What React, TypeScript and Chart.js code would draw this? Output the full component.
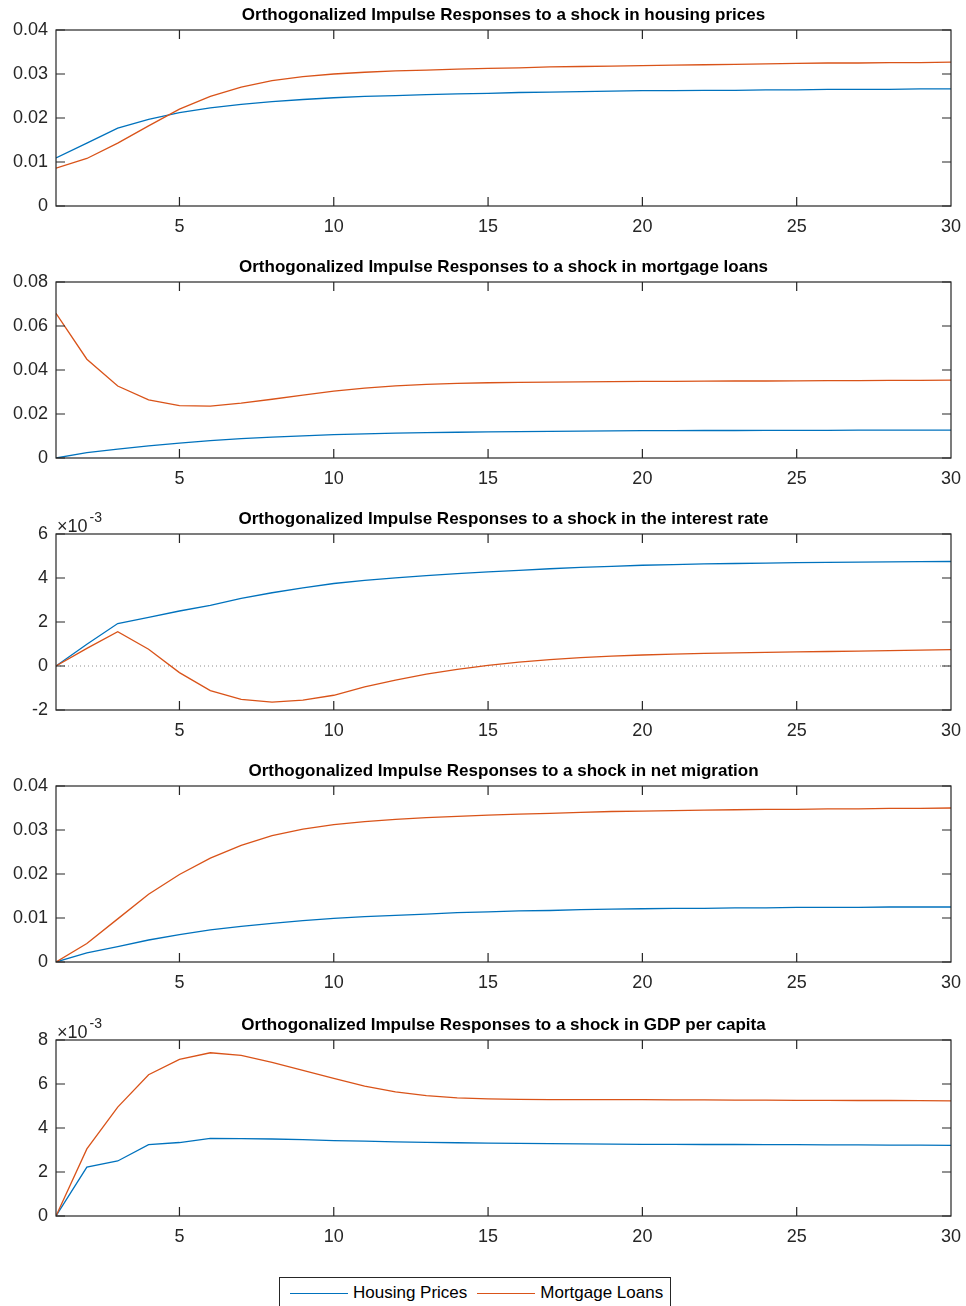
import React, { useEffect, useRef } from "react";
import { Chart, registerables } from "chart.js";

Chart.register(...registerables);

// ---------- data ----------
const periods = [1, 2, 3, 4, 5, 6, 7, 8, 9, 10, 11, 12, 13, 14, 15, 16, 17, 18, 19, 20, 21, 22, 23, 24, 25, 26, 27, 28, 29, 30];
const xTicks = [5, 10, 15, 20, 25, 30];
const seriesNames = ["Housing Prices", "Mortgage Loans"];

const titles = [
  "Orthogonalized Impulse Responses to a shock in housing prices",
  "Orthogonalized Impulse Responses to a shock in mortgage loans",
  "Orthogonalized Impulse Responses to a shock in the interest rate",
  "Orthogonalized Impulse Responses to a shock in net migration",
  "Orthogonalized Impulse Responses to a shock in GDP per capita",
];

// Shock in housing prices
const housingShockHP = [0.0109, 0.0143, 0.0177, 0.0197, 0.0212, 0.0223, 0.0231, 0.0237, 0.0242, 0.0246, 0.0249, 0.0251, 0.0253, 0.0255, 0.0256, 0.0258, 0.0259, 0.0260, 0.0261, 0.0262, 0.0262, 0.0263, 0.0263, 0.0264, 0.0264, 0.0265, 0.0265, 0.0265, 0.0266, 0.0266];
const housingShockML = [0.0086, 0.0108, 0.0143, 0.0182, 0.0220, 0.0249, 0.0270, 0.0285, 0.0294, 0.0300, 0.0304, 0.0307, 0.0309, 0.0311, 0.0313, 0.0314, 0.0316, 0.0317, 0.0318, 0.0319, 0.0320, 0.0321, 0.0322, 0.0323, 0.0324, 0.0325, 0.0325, 0.0326, 0.0326, 0.0327];
const housingTicks = [0, 0.01, 0.02, 0.03, 0.04];

// Shock in mortgage loans
const mortgageShockHP = [0, 0.0024, 0.0040, 0.0055, 0.0068, 0.0079, 0.0088, 0.0095, 0.0101, 0.0106, 0.0110, 0.0113, 0.0115, 0.0117, 0.0119, 0.0120, 0.0121, 0.0122, 0.0123, 0.0124, 0.0124, 0.0125, 0.0125, 0.0126, 0.0126, 0.0126, 0.0127, 0.0127, 0.0127, 0.0127];
const mortgageShockML = [0.0658, 0.0449, 0.0327, 0.0264, 0.0238, 0.0236, 0.0249, 0.0267, 0.0286, 0.0304, 0.0318, 0.0328, 0.0335, 0.0339, 0.0342, 0.0344, 0.0345, 0.0346, 0.0347, 0.0348, 0.0348, 0.0349, 0.0350, 0.0350, 0.0351, 0.0352, 0.0352, 0.0353, 0.0353, 0.0354];
const mortgageTicks = [0, 0.02, 0.04, 0.06, 0.08];

// Shock in the interest rate (values x 10^-3)
const rateShockHP = [0, 0.99, 1.93, 2.21, 2.50, 2.76, 3.07, 3.33, 3.55, 3.75, 3.89, 4.01, 4.11, 4.20, 4.28, 4.35, 4.42, 4.48, 4.53, 4.58, 4.61, 4.64, 4.66, 4.68, 4.70, 4.71, 4.72, 4.73, 4.74, 4.75];
const rateShockML = [0, 0.80, 1.56, 0.76, -0.30, -1.12, -1.52, -1.64, -1.55, -1.33, -0.95, -0.64, -0.37, -0.15, 0.03, 0.18, 0.29, 0.38, 0.45, 0.50, 0.54, 0.57, 0.60, 0.62, 0.64, 0.66, 0.68, 0.70, 0.72, 0.74];
const rateZeroLine = [0, 0];
const rateTicks = [-2, 0, 2, 4, 6];

// Shock in net migration
const migrationShockHP = [0, 0.0021, 0.0035, 0.0050, 0.0062, 0.0073, 0.0081, 0.0088, 0.0094, 0.0099, 0.0103, 0.0106, 0.0109, 0.0112, 0.0114, 0.0116, 0.0117, 0.0119, 0.0120, 0.0121, 0.0122, 0.0122, 0.0123, 0.0123, 0.0124, 0.0124, 0.0124, 0.0125, 0.0125, 0.0125];
const migrationShockML = [0, 0.0042, 0.0098, 0.0154, 0.0199, 0.0236, 0.0265, 0.0287, 0.0302, 0.0312, 0.0319, 0.0324, 0.0328, 0.0331, 0.0334, 0.0336, 0.0338, 0.0340, 0.0342, 0.0343, 0.0344, 0.0345, 0.0346, 0.0347, 0.0347, 0.0348, 0.0348, 0.0349, 0.0349, 0.0350];
const migrationTicks = [0, 0.01, 0.02, 0.03, 0.04];

// Shock in GDP per capita (values x 10^-3)
const gdpShockHP = [0, 2.22, 2.50, 3.24, 3.34, 3.53, 3.52, 3.50, 3.47, 3.43, 3.40, 3.37, 3.35, 3.33, 3.31, 3.30, 3.29, 3.28, 3.27, 3.26, 3.26, 3.25, 3.25, 3.24, 3.24, 3.23, 3.23, 3.22, 3.22, 3.21];
const gdpShockML = [0, 3.05, 4.95, 6.42, 7.12, 7.42, 7.30, 6.98, 6.62, 6.26, 5.90, 5.64, 5.47, 5.37, 5.32, 5.30, 5.29, 5.29, 5.29, 5.29, 5.28, 5.28, 5.27, 5.27, 5.26, 5.26, 5.25, 5.25, 5.24, 5.23];
const gdpTicks = [0, 2, 4, 6, 8];

// ---------- styling ----------
const FONT = "'Liberation Sans', Arial, Helvetica, sans-serif";
const BLUE = "#0072BD";
const ORANGE = "#D95319";
const AXIS = "#262626";
const TICK_SIZE = 18;

const CANVAS_W = 966;
const CANVAS_H = 240;

const framePlugin = {
  id: "frame",
  afterDatasetsDraw(chart: any, _args: any, opts: any) {
    const { ctx, chartArea: a, scales } = chart;
    ctx.save();
    // box
    ctx.strokeStyle = AXIS;
    ctx.lineWidth = 1.2;
    ctx.strokeRect(a.left, a.top, a.right - a.left, a.bottom - a.top);
    // inward ticks
    const tl = 9;
    ctx.beginPath();
    (opts.xTicks || []).forEach((v: number) => {
      const px = scales.x.getPixelForValue(v);
      ctx.moveTo(px, a.bottom);
      ctx.lineTo(px, a.bottom - tl);
      ctx.moveTo(px, a.top);
      ctx.lineTo(px, a.top + tl);
    });
    (opts.yTicks || []).forEach((v: number) => {
      const py = scales.y.getPixelForValue(v);
      ctx.moveTo(a.left, py);
      ctx.lineTo(a.left + tl, py);
      ctx.moveTo(a.right, py);
      ctx.lineTo(a.right - tl, py);
    });
    ctx.stroke();
    // title
    ctx.fillStyle = "#000";
    ctx.font = `bold 17px ${FONT}`;
    ctx.textAlign = "center";
    ctx.textBaseline = "alphabetic";
    ctx.fillText(opts.title, (a.left + a.right) / 2, a.top - 10);
    // exponent
    if (opts.exponent) {
      ctx.fillStyle = AXIS;
      ctx.textAlign = "left";
      ctx.font = `18px ${FONT}`;
      const base = "\u00d710";
      ctx.fillText(base, a.left + 1, a.top - 2.5);
      const w = ctx.measureText(base).width;
      ctx.font = `14px ${FONT}`;
      ctx.fillText(opts.exponent, a.left + 3 + w, a.top - 12);
    }
    ctx.restore();
  },
};

type PanelProps = {
  top: number;
  title: string;
  hp: number[];
  ml: number[];
  yTicks: number[];
  exponent?: string;
  zero?: number[];
};

function Panel({ top, title, hp, ml, yTicks, exponent, zero }: PanelProps) {
  const ref = useRef<HTMLCanvasElement | null>(null);
  useEffect(() => {
    if (!ref.current) return;
    const datasets: any[] = [
      {
        label: seriesNames[1],
        data: periods.map((p, i) => ({ x: p, y: ml[i] })),
        borderColor: ORANGE,
        backgroundColor: ORANGE,
        borderWidth: 1.3,
        pointRadius: 0,
        tension: 0,
        order: 1,
      },
      {
        label: seriesNames[0],
        data: periods.map((p, i) => ({ x: p, y: hp[i] })),
        borderColor: BLUE,
        backgroundColor: BLUE,
        borderWidth: 1.3,
        pointRadius: 0,
        tension: 0,
        order: 2,
      },
    ];
    if (zero) {
      datasets.push({
        label: "zero",
        data: [
          { x: periods[0], y: zero[0] },
          { x: periods[periods.length - 1], y: zero[1] },
        ],
        borderColor: "#8c8c8c",
        borderWidth: 1,
        borderDash: [1, 3],
        pointRadius: 0,
        order: 3,
      });
    }
    const chart = new Chart(ref.current, {
      type: "line",
      data: { datasets },
      plugins: [framePlugin],
      options: {
        responsive: false,
        animation: false,
        devicePixelRatio: 1,
        layout: { padding: { top: 30, right: 15, left: 0, bottom: 0 } },
        plugins: {
          legend: { display: false },
          tooltip: { enabled: false },
          // @ts-ignore
          frame: { title, exponent, xTicks: xTicks.slice(0, -1), yTicks },
        },
        scales: {
          x: {
            type: "linear",
            min: periods[0],
            max: periods[periods.length - 1],
            grid: { display: false, drawTicks: false },
            border: { display: false },
            afterBuildTicks: (s: any) => {
              s.ticks = xTicks.map((v) => ({ value: v }));
            },
            afterFit: (s: any) => {
              s.height = 34;
              s.paddingLeft = 0;
              s.paddingRight = 0;
            },
            ticks: {
              padding: 10,
              color: AXIS,
              autoSkip: false,
              maxRotation: 0,
              font: { family: FONT, size: TICK_SIZE },
              callback: (v: any) => String(v),
            },
          },
          y: {
            type: "linear",
            min: yTicks[0],
            max: yTicks[yTicks.length - 1],
            grid: { display: false, drawTicks: false },
            border: { display: false },
            afterBuildTicks: (s: any) => {
              s.ticks = yTicks.map((v) => ({ value: v }));
            },
            afterFit: (s: any) => {
              s.width = 56;
              s.paddingTop = 0;
              s.paddingBottom = 0;
            },
            ticks: {
              padding: 8,
              color: AXIS,
              autoSkip: false,
              font: { family: FONT, size: TICK_SIZE },
              callback: (v: any) => String(v),
            },
          },
        },
      } as any,
    });
    return () => chart.destroy();
  }, []);
  return (
    <canvas
      ref={ref}
      width={CANVAS_W}
      height={CANVAS_H}
      style={{ position: "absolute", left: 0, top, width: CANVAS_W, height: CANVAS_H }}
    />
  );
}

function LegendItem({ color, label }: { color: string; label: string }) {
  return (
    <span style={{ display: "inline-flex", alignItems: "center", marginRight: 10 }}>
      <span style={{ display: "inline-block", width: 58, height: 0, borderTop: `1.3px solid ${color}`, marginRight: 5 }} />
      <span>{label}</span>
    </span>
  );
}

export default function App() {
  return (
    <div style={{ position: "absolute", left: 0, top: 0, width: 966, height: 1306, background: "#fff", overflow: "hidden" }}>
      <Panel top={0} title={titles[0]} hp={housingShockHP} ml={housingShockML} yTicks={housingTicks} />
      <Panel top={252} title={titles[1]} hp={mortgageShockHP} ml={mortgageShockML} yTicks={mortgageTicks} />
      <Panel top={504} title={titles[2]} hp={rateShockHP} ml={rateShockML} yTicks={rateTicks} exponent="-3" zero={rateZeroLine} />
      <Panel top={756} title={titles[3]} hp={migrationShockHP} ml={migrationShockML} yTicks={migrationTicks} />
      <Panel top={1010} title={titles[4]} hp={gdpShockHP} ml={gdpShockML} yTicks={gdpTicks} exponent="-3" />
      <div
        style={{
          position: "absolute",
          left: 279,
          top: 1277,
          width: 380,
          height: 30,
          border: `1px solid ${AXIS}`,
          boxSizing: "content-box",
          display: "flex",
          alignItems: "center",
          paddingLeft: 10,
          fontFamily: FONT,
          fontSize: 17,
          color: "#000",
          whiteSpace: "nowrap",
        }}
      >
        <LegendItem color={BLUE} label={seriesNames[0]} />
        <LegendItem color={ORANGE} label={seriesNames[1]} />
      </div>
    </div>
  );
}
